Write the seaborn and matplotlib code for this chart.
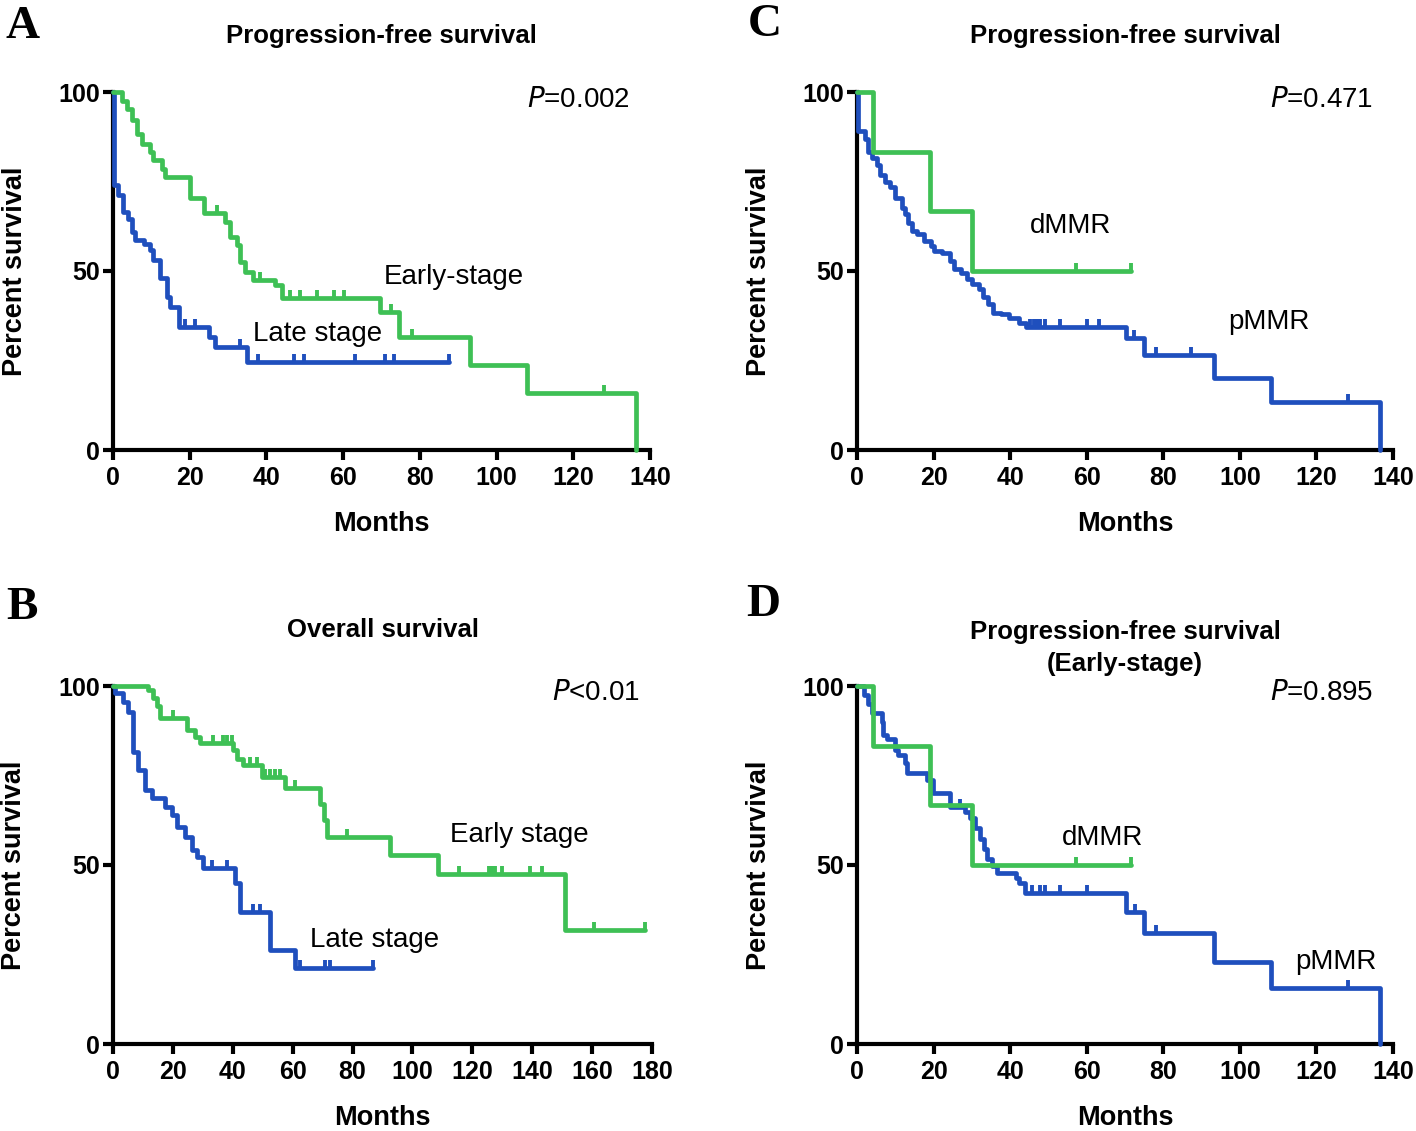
import numpy as np
import seaborn as sns
import matplotlib
matplotlib.use("Agg")
import matplotlib.pyplot as plt

# ---- data (months, percent survival) ----
# A: PFS by stage
A_early_t = [0, 2.3, 3.6, 4.9, 6.2, 7.5, 9.7, 10.5, 12.7, 13.6, 20.0, 23.6, 29.2, 30.5, 32.3, 33.2,
             34.5, 36.6, 42.3, 44.0, 69.7, 74.5, 93.2, 108.0, 136.3]
A_early_s = [100, 97.6, 95.2, 92.1, 88.2, 85.6, 83.2, 80.9, 78.6, 76.3, 70.4, 66.2, 63.8, 59.6, 57.3, 52.6,
             49.8, 47.5, 46.1, 42.4, 38.6, 31.6, 23.7, 16.0, 0]
A_early_cens = [27.0, 38.3, 46.2, 48.8, 53.2, 57.5, 60.1, 72.6, 78.0, 128.0]
A_late_t = [0, 0.3, 1.4, 2.7, 4.0, 4.9, 5.7, 8.0, 9.7, 10.4, 12.3, 14.0, 14.9, 17.1, 24.9, 26.6, 34.9, 87.5]
A_late_s = [100, 74.0, 71.2, 66.6, 64.5, 61.0, 58.7, 57.5, 55.9, 53.1, 48.0, 42.8, 40.0, 34.4, 31.6, 28.9,
            24.7, 24.7]
A_late_cens = [18.8, 21.4, 33.2, 37.9, 47.1, 49.7, 63.2, 71.0, 73.2, 87.5]

# B: OS by stage
B_early_t = [0, 11.8, 13.5, 14.6, 15.7, 24.6, 27.4, 29.1, 40.2, 41.3, 43.5, 49.6, 57.5, 69.1, 70.3, 71.4,
             92.6, 108.7, 151.0, 177.7]
B_early_s = [100, 98.9, 96.6, 94.4, 91.0, 87.7, 85.8, 84.0, 82.1, 79.7, 78.0, 74.7, 71.4, 67.0, 62.5, 57.9,
             52.8, 47.5, 31.8, 31.8]
B_early_cens = [20.2, 33.5, 36.9, 38.0, 39.7, 45.8, 48.0, 50.8, 52.4, 54.1, 55.8, 60.8, 78.1, 115.4,
                125.4, 126.5, 127.7, 129.9, 139.3, 143.2, 160.5, 177.7]
B_late_t = [0, 0.7, 3.5, 5.1, 6.8, 8.5, 10.7, 13.0, 17.4, 19.6, 21.3, 24.0, 26.3, 28.0, 30.2, 40.7, 42.4,
            52.4, 60.8, 86.9]
B_late_s = [100, 98.0, 95.6, 92.8, 81.7, 76.5, 70.9, 68.6, 66.3, 64.0, 60.7, 57.9, 54.2, 52.3, 49.1, 44.9,
            37.0, 26.3, 21.1, 21.1]
B_late_cens = [32.9, 38.0, 46.9, 49.2, 62.5, 70.8, 72.5, 86.9]

# C: PFS by MMR status (dMMR group also used in D)
dMMR_t = [0, 4.3, 19.1, 30.0, 71.5]
dMMR_s = [100, 83.3, 66.7, 50.0, 50.0]
dMMR_cens = [57.1, 71.5]
C_p_t = [0, 0.3, 2.1, 2.9, 3.8, 5.1, 6.0, 7.3, 8.6, 9.9, 11.7, 12.6, 13.4, 14.3, 15.7, 17.5, 19.2, 20.1,
         22.3, 24.4, 25.3, 27.1, 28.8, 30.1, 31.9, 32.8, 34.1, 35.4, 37.6, 39.8, 42.4, 44.1, 70.2, 75.0,
         93.3, 108.1, 136.5]
C_p_s = [100, 89.0, 87.0, 83.3, 81.5, 79.6, 76.8, 75.0, 73.6, 70.4, 67.6, 65.8, 63.5, 61.1, 60.2, 58.4,
         57.0, 55.6, 55.1, 52.8, 50.5, 49.5, 47.7, 46.3, 44.9, 42.6, 40.8, 38.4, 38.0, 37.0, 35.6, 34.3,
         31.2, 26.5, 20.0, 13.5, 0]
C_p_cens = [45.3, 46.2, 47.0, 47.9, 49.2, 53.1, 60.1, 63.2, 72.3, 78.0, 87.2, 128.2]

# D: PFS by MMR status, early stage
D_p_t = [0, 1.7, 3.0, 4.0, 6.5, 6.9, 7.8, 9.9, 10.8, 12.6, 13.0, 18.2, 19.9, 24.3, 28.3, 29.6, 30.9,
         32.2, 33.1, 34.0, 35.3, 36.6, 41.4, 42.2, 44.0, 70.2, 75.0, 93.3, 108.1, 136.5]
D_p_s = [100, 97.5, 95.0, 92.5, 90.0, 86.3, 85.2, 82.1, 80.7, 78.4, 75.6, 73.8, 70.0, 66.3, 64.9, 63.0,
         60.2, 57.4, 54.6, 51.8, 49.6, 47.7, 46.3, 44.9, 42.1, 37.0, 30.9, 23.0, 15.6, 0]
D_p_cens = [26.9, 45.7, 47.9, 49.2, 53.1, 60.1, 72.6, 78.0, 128.2]

GREEN = "#3EC055"
BLUE = "#1F4FBD"

sns.set_style("ticks")
plt.rcParams["font.family"] = ["Liberation Sans", "DejaVu Sans"]
plt.rcParams["text.color"] = "black"
plt.rcParams["axes.labelcolor"] = "black"
plt.rcParams["xtick.color"] = "black"
plt.rcParams["ytick.color"] = "black"

W, H = 1416, 1131
fig = plt.figure(figsize=(W / 100, H / 100), dpi=100)


def add_ax(x0, x1, ytop, ybot):
    return fig.add_axes([x0 / W, 1 - ybot / H, (x1 - x0) / W, (ybot - ytop) / H])


def km(ax, t, s, cens, color):
    sns.lineplot(x=t, y=s, ax=ax, color=color, lw=3.4, drawstyle="steps-post",
                 estimator=None, sort=False, clip_on=False, zorder=3)
    t = np.asarray(t)
    s = np.asarray(s)
    lev = s[np.searchsorted(t, cens, side="right") - 1]
    ax.plot(cens, lev, ls="none", marker=2, ms=6, mew=2.8, color=color, clip_on=False, zorder=3)


def style(ax, xmax, xstep):
    ax.set_xlim(0, xmax)
    ax.set_ylim(0, 100)
    ax.set_xticks(np.arange(0, xmax + 1, xstep))
    ax.set_yticks([0, 50, 100])
    sns.despine(ax=ax)
    for sp in ["left", "bottom"]:
        ax.spines[sp].set_linewidth(3)
        ax.spines[sp].set_color("black")
    ax.tick_params(width=3, length=7.5, color="black", labelcolor="black", labelsize=18)
    ax.tick_params(axis="x", pad=4)
    ax.tick_params(axis="y", pad=2)
    for lab in ax.get_xticklabels() + ax.get_yticklabels():
        lab.set_fontweight("bold")
    ax.set_xlabel("Months", fontsize=19.5, fontweight="bold", va="center", color="black")
    ax.set_ylabel("Percent survival", fontsize=19.5, fontweight="bold", va="center", color="black")
    ax.xaxis.set_label_coords(0.5, -0.207)
    ax.yaxis.set_label_coords(-0.183, 0.5)
    ax.set_facecolor("white")


def label(ax, x, y, s, **kw):
    ax.text(x, y, s, fontsize=20, ha="left", va="center", color="black", **kw)


# A
axA = add_ax(113, 650, 92, 450)
km(axA, A_late_t, A_late_s, A_late_cens, BLUE)
km(axA, A_early_t, A_early_s, A_early_cens, GREEN)
style(axA, 140, 20)
label(axA, 108, 97.8, r"$\it{P}$=0.002")
label(axA, 70.5, 48.3, "Early-stage")
label(axA, 36.6, 32.4, "Late stage")

# B
axB = add_ax(113, 652, 686, 1044)
km(axB, B_late_t, B_late_s, B_late_cens, BLUE)
km(axB, B_early_t, B_early_s, B_early_cens, GREEN)
style(axB, 180, 20)
label(axB, 146.7, 98, r"$\it{P}$<0.01")
label(axB, 112.6, 58.4, "Early stage")
label(axB, 65.8, 29, "Late stage")

# C
axC = add_ax(857, 1393, 92, 450)
km(axC, C_p_t, C_p_s, C_p_cens, BLUE)
km(axC, dMMR_t, dMMR_s, dMMR_cens, GREEN)
style(axC, 140, 20)
label(axC, 107.8, 97.8, r"$\it{P}$=0.471")
label(axC, 45.2, 62.6, "dMMR")
label(axC, 96.9, 35.8, "pMMR")

# D
axD = add_ax(857, 1393, 686, 1044)
km(axD, D_p_t, D_p_s, D_p_cens, BLUE)
km(axD, dMMR_t, dMMR_s, dMMR_cens, GREEN)
style(axD, 140, 20)
label(axD, 107.8, 98, r"$\it{P}$=0.895")
label(axD, 53.5, 57.5, "dMMR")
label(axD, 114.4, 22.9, "pMMR")

# titles and panel letters
def ftext(x, y, s, **kw):
    fig.text(x / W, 1 - y / H, s, ha="center", va="center", color="black", **kw)


ftext(381, 36, "Progression-free survival", fontsize=18.5, fontweight="bold")
ftext(383, 630, "Overall survival", fontsize=18.5, fontweight="bold")
ftext(1125, 36, "Progression-free survival", fontsize=18.5, fontweight="bold")
ftext(1125, 648, "Progression-free survival\n(Early-stage)", fontsize=18.5, fontweight="bold",
      linespacing=1.4)
for x, y, s in [(23, 27, "A"), (22, 608, "B"), (765, 25, "C"), (763, 605, "D")]:
    ftext(x, y, s, fontsize=34, fontweight="bold", family="Liberation Serif")

fig.savefig("out.png", dpi=100, facecolor="white")
